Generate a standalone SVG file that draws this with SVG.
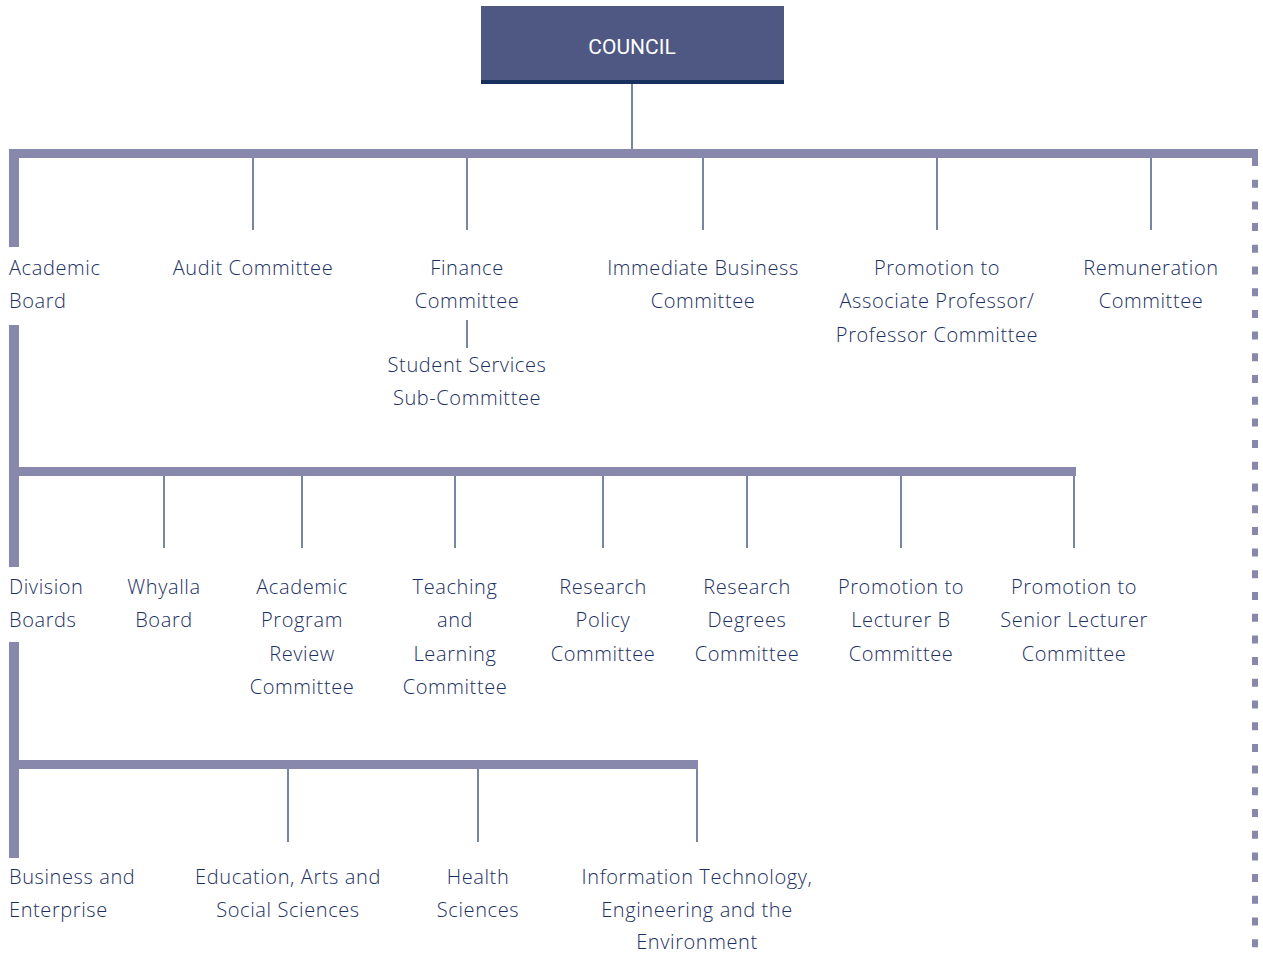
<svg xmlns="http://www.w3.org/2000/svg" width="1263" height="954" viewBox="0 0 1263 954">
<style>
.t{font-family:"Open Sans","Liberation Sans",sans-serif;font-size:20px;font-weight:300;letter-spacing:0.6px;fill:#1b3062;}
.m{text-anchor:middle;}
.bar{fill:#8788ab;}
.thin{stroke:#2e4470;stroke-width:1.3;fill:none;}
</style>
<rect width="1263" height="954" fill="#ffffff"/>
<g id="connectors">
<line class="thin" x1="632" y1="84" x2="632" y2="150"/>
<rect class="bar" x="9" y="149" width="1249" height="9"/>
<rect class="bar" x="9" y="149" width="10" height="98"/>
<line x1="1255" y1="158" x2="1255" y2="954" stroke="#8788ab" stroke-width="6" stroke-dasharray="8 13.7"/>
<line class="thin" x1="253" y1="158" x2="253" y2="230"/>
<line class="thin" x1="467" y1="158" x2="467" y2="230"/>
<line class="thin" x1="703" y1="158" x2="703" y2="230"/>
<line class="thin" x1="937" y1="158" x2="937" y2="230"/>
<line class="thin" x1="1151" y1="158" x2="1151" y2="230"/>
<line class="thin" x1="467" y1="320" x2="467" y2="348"/>
<rect class="bar" x="9" y="325" width="10" height="242"/>
<rect class="bar" x="9" y="467" width="1067" height="9"/>
<line class="thin" x1="164" y1="476" x2="164" y2="548"/>
<line class="thin" x1="302" y1="476" x2="302" y2="548"/>
<line class="thin" x1="455" y1="476" x2="455" y2="548"/>
<line class="thin" x1="603" y1="476" x2="603" y2="548"/>
<line class="thin" x1="747" y1="476" x2="747" y2="548"/>
<line class="thin" x1="901" y1="476" x2="901" y2="548"/>
<line class="thin" x1="1074" y1="476" x2="1074" y2="548"/>
<rect class="bar" x="9" y="642" width="10" height="216"/>
<rect class="bar" x="9" y="760" width="689" height="9"/>
<line class="thin" x1="288" y1="769" x2="288" y2="842"/>
<line class="thin" x1="478" y1="769" x2="478" y2="842"/>
<line class="thin" x1="697" y1="769" x2="697" y2="842"/>
</g>
<g id="council">
<rect x="481" y="6" width="303" height="77" fill="#4e5882"/>
<rect x="481" y="80" width="303" height="4" fill="#17305e"/>
<text x="632" y="54" text-anchor="middle" font-family="Roboto,'Liberation Sans',sans-serif" font-size="21" font-weight="400" fill="#ffffff">COUNCIL</text>
</g>
<g id="academic-board"><text class="t" x="9" y="275">Academic</text><text class="t" x="9" y="308">Board</text></g>
<g id="audit"><text class="t m" x="253" y="275">Audit Committee</text></g>
<g id="finance"><text class="t m" x="467" y="275">Finance</text><text class="t m" x="467" y="308">Committee</text></g>
<g id="student-services"><text class="t m" x="467" y="372">Student Services</text><text class="t m" x="467" y="405">Sub-Committee</text></g>
<g id="immediate"><text class="t m" x="703" y="275">Immediate Business</text><text class="t m" x="703" y="308">Committee</text></g>
<g id="promo-prof"><text class="t m" x="937" y="275">Promotion to</text><text class="t m" x="937" y="308">Associate Professor/</text><text class="t m" x="937" y="342">Professor Committee</text></g>
<g id="remuneration"><text class="t m" x="1151" y="275">Remuneration</text><text class="t m" x="1151" y="308">Committee</text></g>
<g id="division-boards"><text class="t" x="9" y="594">Division</text><text class="t" x="9" y="627">Boards</text></g>
<g id="whyalla"><text class="t m" x="164" y="594">Whyalla</text><text class="t m" x="164" y="627">Board</text></g>
<g id="aprc"><text class="t m" x="302" y="594">Academic</text><text class="t m" x="302" y="627">Program</text><text class="t m" x="302" y="661">Review</text><text class="t m" x="302" y="694">Committee</text></g>
<g id="tlc"><text class="t m" x="455" y="594">Teaching</text><text class="t m" x="455" y="627">and</text><text class="t m" x="455" y="661">Learning</text><text class="t m" x="455" y="694">Committee</text></g>
<g id="rpc"><text class="t m" x="603" y="594">Research</text><text class="t m" x="603" y="627">Policy</text><text class="t m" x="603" y="661">Committee</text></g>
<g id="rdc"><text class="t m" x="747" y="594">Research</text><text class="t m" x="747" y="627">Degrees</text><text class="t m" x="747" y="661">Committee</text></g>
<g id="promo-lb"><text class="t m" x="901" y="594">Promotion to</text><text class="t m" x="901" y="627">Lecturer B</text><text class="t m" x="901" y="661">Committee</text></g>
<g id="promo-sl"><text class="t m" x="1074" y="594">Promotion to</text><text class="t m" x="1074" y="627">Senior Lecturer</text><text class="t m" x="1074" y="661">Committee</text></g>
<g id="business"><text class="t" x="9" y="884">Business and</text><text class="t" x="9" y="917">Enterprise</text></g>
<g id="education"><text class="t m" x="288" y="884">Education, Arts and</text><text class="t m" x="288" y="917">Social Sciences</text></g>
<g id="health"><text class="t m" x="478" y="884">Health</text><text class="t m" x="478" y="917">Sciences</text></g>
<g id="it"><text class="t m" x="697" y="884">Information Technology,</text><text class="t m" x="697" y="917">Engineering and the</text><text class="t m" x="697" y="949">Environment</text></g>
</svg>
